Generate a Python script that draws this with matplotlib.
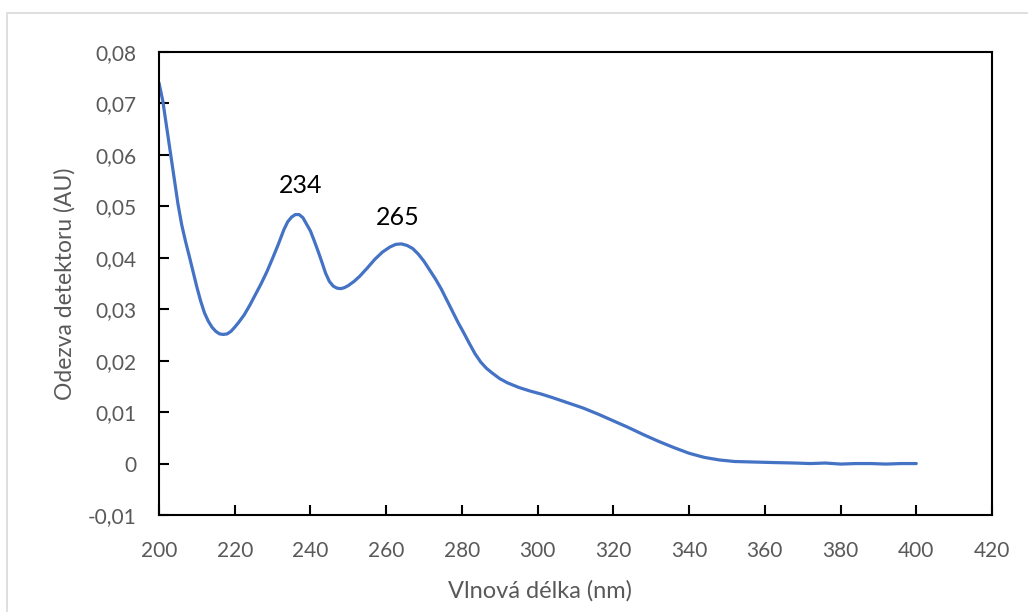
import matplotlib.pyplot as plt
from matplotlib.patches import Rectangle
from matplotlib.ticker import FuncFormatter, MultipleLocator

# spektrum
wavelength = [200, 201, 202, 203, 204, 205, 206, 207, 208, 209, 210, 211, 212,
              213, 214, 215, 216, 217, 218, 219, 220, 221, 222.5, 224, 225.5,
              227, 228.5, 230, 231.5, 233, 234, 235, 236, 237, 238, 239, 240,
              241, 242, 243, 244, 245, 246, 247, 248, 249, 250, 251.5, 253,
              255, 257, 259, 261, 262.5, 264, 265.5, 267, 268.5, 270, 271.5,
              273, 274.5, 276, 277.5, 279, 280.5, 282, 283.5, 285, 286.5, 288,
              290, 292, 295, 298, 301, 304, 308, 312, 316, 320, 324, 328, 332,
              336, 340, 344, 348, 352, 357, 362, 368, 372, 376, 380, 384, 388,
              392, 396, 400]
response = [0.0740, 0.0705, 0.0655, 0.0605, 0.0555, 0.0505, 0.0464, 0.0432,
            0.0403, 0.0373, 0.0343, 0.0316, 0.0293, 0.0277, 0.0265, 0.0257,
            0.0252, 0.0251, 0.0252, 0.0257, 0.0265, 0.0274, 0.0289, 0.0308,
            0.0329, 0.0350, 0.0373, 0.0399, 0.0426, 0.0455, 0.0470, 0.0479,
            0.0484, 0.0484, 0.0478, 0.0465, 0.0452, 0.0433, 0.0413, 0.0392,
            0.0370, 0.0354, 0.0345, 0.0341, 0.0340, 0.0342, 0.0346, 0.0354,
            0.0364, 0.0380, 0.0397, 0.0411, 0.0421, 0.0426, 0.0427, 0.0424,
            0.0418, 0.0407, 0.0393, 0.0376, 0.0359, 0.0340, 0.0318, 0.0296,
            0.0274, 0.0254, 0.0233, 0.0213, 0.0197, 0.0185, 0.0176, 0.0165,
            0.0157, 0.0148, 0.0141, 0.0135, 0.0128, 0.0118, 0.0108, 0.0096,
            0.0083, 0.0070, 0.0056, 0.0043, 0.0031, 0.0020, 0.0012, 0.0007,
            0.0004, 0.0003, 0.0002, 0.0001, 0.0000, 0.0001, -0.0001, 0.0000,
            0.0000, -0.0001, 0.0000, 0.0000]

# popisky maxim
peak_labels = ['234', '265']
peak_x = [237.5, 263.1]
peak_y = [0.0540, 0.0479]

plt.rcParams['font.family'] = ['Lato', 'DejaVu Sans']
gray = '#595959'

fig = plt.figure(figsize=(10.28, 6.12), dpi=100)
ax = fig.add_axes([159 / 1028, 1 - 515 / 612, (992 - 159) / 1028, (515 - 52) / 612])

# ramecek grafu
fig.patches.append(Rectangle((7 / 1028, -0.1), 1.2, 0.1 + (612 - 13) / 612,
                             transform=fig.transFigure, fill=False,
                             edgecolor='#d9d9d9', linewidth=1.2))

ax.plot(wavelength, response, color='#4472C4', linewidth=2.3,
        solid_joinstyle='round', solid_capstyle='round')

for lab, x, y in zip(peak_labels, peak_x, peak_y):
    ax.text(x, y, lab, ha='center', va='center', fontsize=18, color='black')

ax.set_xlim(200, 420)
ax.set_ylim(-0.01, 0.08)
ax.xaxis.set_major_locator(MultipleLocator(20))
ax.yaxis.set_major_locator(MultipleLocator(0.01))
ax.yaxis.set_major_formatter(FuncFormatter(
    lambda v, p: '0' if abs(v) < 1e-9 else f'{v:.2f}'.replace('.', ',')))

for s in ax.spines.values():
    s.set_linewidth(1.5)
    s.set_color('black')
ax.tick_params(direction='in', length=7, width=1.5, labelsize=15,
               labelcolor=gray)
ax.tick_params(axis='y', pad=16)
ax.tick_params(axis='x', pad=19)

ax.set_xlabel('Vlnová délka (nm)', fontsize=17, color=gray)
ax.xaxis.set_label_coords(0.457, -0.14)
ax.set_ylabel('Odezva detektoru (AU)', fontsize=16.5, color=gray, labelpad=9)

fig.savefig('out.png', dpi=100)
